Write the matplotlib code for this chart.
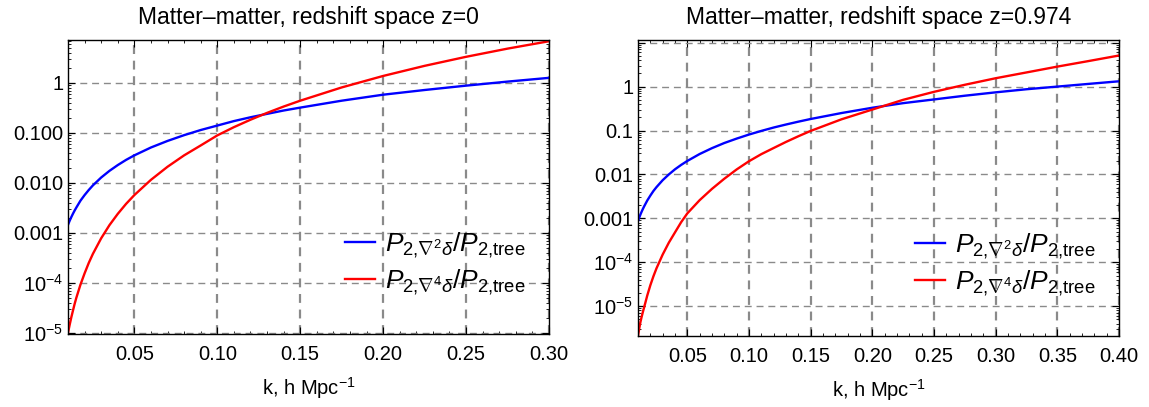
import matplotlib
matplotlib.use('Agg')
import matplotlib.pyplot as plt
from matplotlib.ticker import FixedLocator, MultipleLocator, LogLocator, NullFormatter

plt.rcParams['font.family'] = ['Liberation Sans', 'DejaVu Sans']
plt.rcParams['mathtext.fontset'] = 'custom'
plt.rcParams['mathtext.rm'] = 'Liberation Sans'
plt.rcParams['mathtext.it'] = 'Liberation Sans:italic'
plt.rcParams['mathtext.bf'] = 'Liberation Sans:bold'

# z = 0 panel
k_z0 = [0.010, 0.011, 0.012, 0.013, 0.014, 0.015, 0.0175, 0.02, 0.0225, 0.025,
        0.03, 0.035, 0.04, 0.045, 0.05, 0.06, 0.07, 0.08, 0.09, 0.10,
        0.11, 0.12, 0.13, 0.14, 0.15, 0.175, 0.20, 0.225, 0.25, 0.275, 0.30]
lap2_z0 = [1.45e-3, 1.75e-3, 2.07e-3, 2.42e-3, 2.8e-3, 3.2e-3, 4.4e-3, 5.7e-3, 7.2e-3, 8.9e-3,
           1.28e-2, 1.74e-2, 2.27e-2, 2.88e-2, 3.55e-2, 5.1e-2, 6.9e-2, 9.0e-2, 0.114, 0.140,
           0.172, 0.205, 0.24, 0.28, 0.32, 0.44, 0.58, 0.72, 0.88, 1.06, 1.26]
lap4_z0 = [1.0e-5, 1.45e-5, 2.05e-5, 2.8e-5, 3.8e-5, 5.0e-5, 9.2e-5, 1.55e-4, 2.5e-4, 3.8e-4,
           7.8e-4, 1.43e-3, 2.4e-3, 3.8e-3, 5.7e-3, 1.15e-2, 2.1e-2, 3.55e-2, 5.6e-2, 8.9e-2,
           0.130, 0.183, 0.251, 0.336, 0.44, 0.81, 1.375, 2.19, 3.32, 4.84, 6.8]

# z = 0.974 panel
k_z1 = [0.010, 0.011, 0.012, 0.013, 0.014, 0.015, 0.0175, 0.02, 0.0225, 0.025,
        0.03, 0.035, 0.04, 0.045, 0.05, 0.06, 0.07, 0.08, 0.09, 0.10,
        0.11, 0.12, 0.13, 0.14, 0.15, 0.175, 0.20, 0.225, 0.25, 0.275,
        0.30, 0.325, 0.35, 0.375, 0.40]
lap2_z1 = [8.7e-4, 1.04e-3, 1.23e-3, 1.43e-3, 1.65e-3, 1.88e-3, 2.55e-3, 3.3e-3, 4.2e-3, 5.15e-3,
           7.4e-3, 1.0e-2, 1.31e-2, 1.65e-2, 2.03e-2, 2.92e-2, 3.97e-2, 5.2e-2, 6.55e-2, 8.1e-2,
           9.8e-2, 0.117, 0.137, 0.159, 0.183, 0.25, 0.33, 0.42, 0.51, 0.62,
           0.74, 0.87, 1.0, 1.15, 1.32]
lap4_z1 = [2.1e-6, 3.1e-6, 4.4e-6, 5.8e-6, 7.5e-6, 9.5e-6, 1.75e-5, 3.0e-5, 4.8e-5, 7.3e-5,
           1.5e-4, 2.8e-4, 4.8e-4, 8.2e-4, 1.3e-3, 2.6e-3, 4.7e-3, 8.0e-3, 1.3e-2, 2.0e-2,
           2.9e-2, 4.0e-2, 5.5e-2, 7.4e-2, 9.8e-2, 0.18, 0.30, 0.50, 0.76, 1.1,
           1.55, 2.1, 2.85, 3.8, 5.1]

titles = ['Matter\u2013matter, redshift space z=0', 'Matter\u2013matter, redshift space z=0.974']
label2 = r'$P_{2{,}\nabla^2\delta}/P_{2{,}\mathrm{tree}}$'
label4 = r'$P_{2{,}\nabla^4\delta}/P_{2{,}\mathrm{tree}}$'

ytick_vals = [1e-5, 1e-4, 1e-3, 1e-2, 1e-1, 1, 10]
ylabels_z0 = [r'$10^{-5}$', r'$10^{-4}$', '0.001', '0.010', '0.100', '1', '']
ylabels_z1 = [r'$10^{-5}$', r'$10^{-4}$', '0.001', '0.01', '0.1', '1', '']

fig = plt.figure(figsize=(11.49, 4.07), dpi=100)
ax1 = fig.add_axes([68/1149, 73/407, 481/1149, 294/407])
ax2 = fig.add_axes([638/1149, 71/407, 481/1149, 296/407])

panels = [
    (ax1, k_z0, lap2_z0, lap4_z0, (0.01, 0.30), (0.95e-5, 7.2), ylabels_z0, titles[0], (0.576, 0.238)),
    (ax2, k_z1, lap2_z1, lap4_z1, (0.01, 0.40), (2.1e-6, 11.5), ylabels_z1, titles[1], (0.576, 0.24)),
]

for ax, k, a, b, xl, yl, ylab, title, legpos in panels:
    ax.plot(k, a, color='#0000ff', lw=1.7, label=label2)
    ax.plot(k, b, color='#ff0000', lw=1.7, label=label4)
    ax.set_yscale('log')
    ax.set_xlim(*xl)
    ax.set_ylim(*yl)
    ax.yaxis.set_major_locator(FixedLocator(ytick_vals))
    ax.set_yticklabels(ylab)
    ax.yaxis.set_minor_locator(LogLocator(base=10, subs=range(2, 10), numticks=20))
    ax.yaxis.set_minor_formatter(NullFormatter())
    ax.xaxis.set_major_locator(MultipleLocator(0.05))
    ax.xaxis.set_minor_locator(MultipleLocator(0.01))
    ax.xaxis.set_major_formatter(plt.FuncFormatter(lambda v, p: '%.2f' % v))
    ax.tick_params(which='both', direction='in', top=True, right=True, labelsize=14.5)
    ax.tick_params(which='major', length=5, width=0.8)
    ax.tick_params(which='minor', length=2.5, width=0.6)
    ax.tick_params(axis='x', which='major', pad=8)
    ax.grid(True, which='major', axis='y', color='#8a8a8a', lw=1.0, ls=(0, (5, 3.5)))
    ax.grid(True, which='major', axis='x', color='#8a8a8a', lw=1.6, ls=(0, (4, 3)))
    for s in ax.spines.values():
        s.set_linewidth(1.0)
    ax.set_title(title, fontsize=16.5, pad=11.5)
    ax.set_xlabel(r'k, h Mpc$^{-1}$', fontsize=14.5, labelpad=8)
    ax.legend(loc='center left', bbox_to_anchor=legpos, frameon=False, fontsize=19,
              borderpad=0, borderaxespad=0, handlelength=1.12, handletextpad=0.4,
              labelspacing=0.3)

fig.savefig('out.png', dpi=100)
